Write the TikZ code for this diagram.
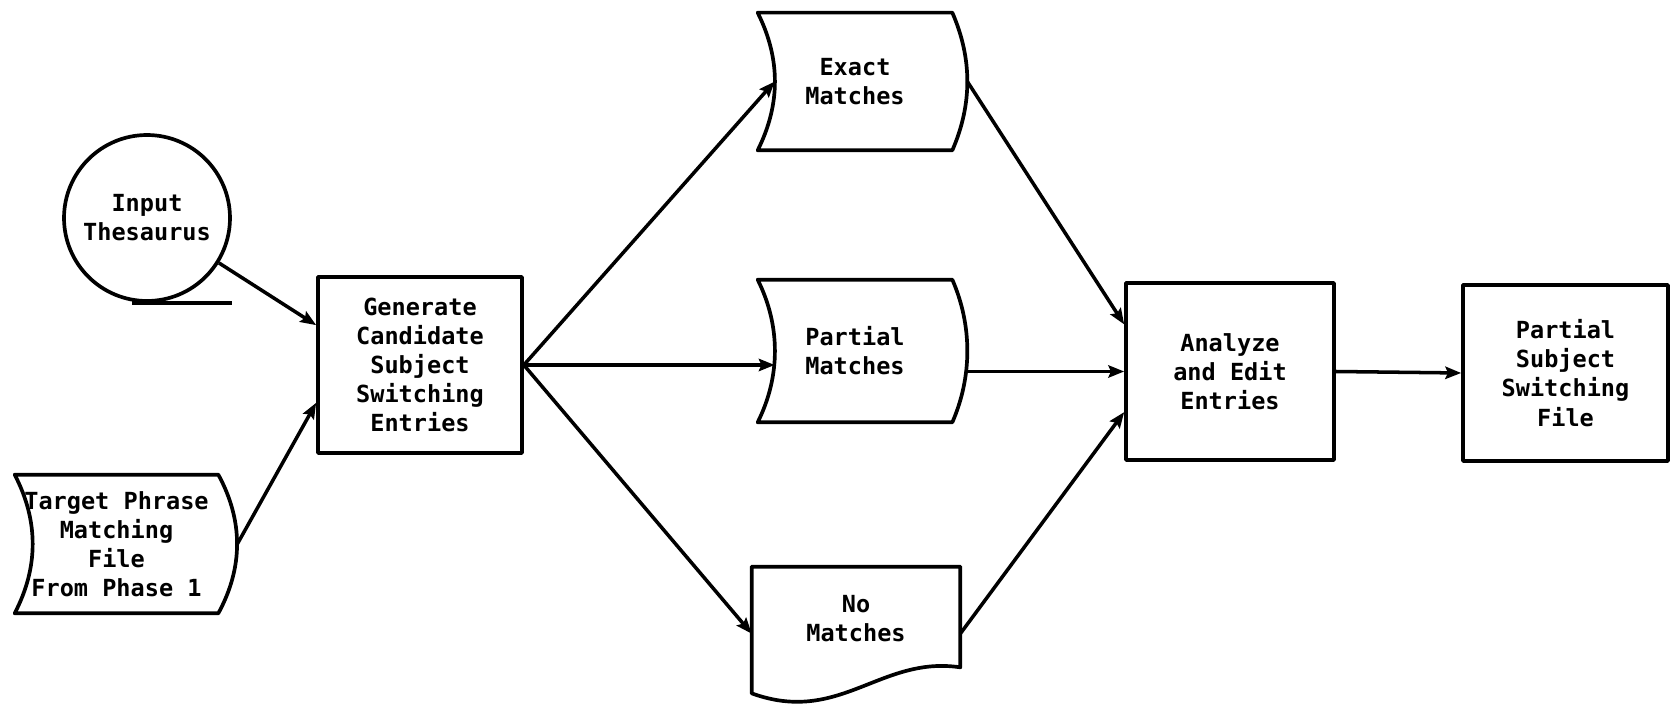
\documentclass[tikz,border=0pt]{standalone}
\usepackage{fontspec}
\newfontfamily\chartfont{DejaVu Sans Mono}
\usetikzlibrary{calc,arrows.meta}
\tikzset{
  box/.style={line width=2.1pt,line join=round},
  txt/.style={font={\chartfont\bfseries\fontsize{13.4pt}{16.6pt}\selectfont},align=center,inner sep=0pt},
  flow/.style={line width=2pt,-{Stealth[length=9pt,width=7pt,inset=1.5pt]}}
}
\begin{document}
\begin{tikzpicture}[x=0.02cm,y=-0.02cm]
      \useasboundingbox (0,0) rectangle (1671,705);
      \begin{scope}[shift={(0,0)}]
        \node[txt,circle,draw,box,minimum size=3.32cm] (th) at (147,218) {Input\\Thesaurus};
        \draw[box] ([xshift=-0.3cm]th.south) -- ++(100,0);
        \node[txt,minimum width=4.06cm,minimum height=2.76cm] (tp) at (116.5,544)
          {Target Phrase\\Matching\\File\\From Phase 1};
        \node[txt,draw,box,minimum width=4.08cm,minimum height=3.52cm] (gen) at (420,365)
          {Generate\\Candidate\\Subject\\Switching\\Entries};
        \node[txt,minimum width=3.88cm,minimum height=2.74cm] (ex) at (855,81.5) {Exact\\Matches};
        \node[txt,minimum width=3.88cm,minimum height=2.84cm] (pm) at (855,351) {Partial\\Matches};
        \node[txt,minimum width=4.16cm,minimum height=2.08cm] (nm) at (856,619) {No\\Matches};
        \node[txt,draw,box,minimum width=4.16cm,minimum height=3.54cm] (an) at (1230,371.5)
          {Analyze\\and Edit\\Entries};
        \node[txt,draw,box,minimum width=4.1cm,minimum height=3.52cm] (ps) at (1565.5,373)
          {Partial\\Subject\\Switching\\File};
        \foreach \n/\l/\r in {tp/24/25, ex/23/20, pm/23/20}{
          \draw[box] (\n.north west) -- (\n.north east)
            .. controls +(\r,46) and +(\r,-46) .. (\n.south east) -- (\n.south west)
            .. controls +(\l,-46) and +(\l,46) .. (\n.north west) -- cycle;
        }
        \draw[box] (nm.south west) -- (nm.north west) -- (nm.north east)
          -- ([yshift=0.08cm]nm.south east)
          .. controls +(-80,-12) and +(88,32) .. ([yshift=-0.44cm]nm.south west) -- cycle;
        \draw[flow] (th.-32) -- (gen.159);
        \draw[flow] ([xshift=0.38cm]tp.east) -- (gen.200);
        \draw[flow] (gen.east) -- ([xshift=0.34cm]ex.west);
        \draw[flow] (gen.east) -- ($(gen.east -| pm.west)+(17,0)$);
        \draw[flow] (gen.east) -- (nm.188);
        \draw[flow] ([xshift=0.3cm]ex.east) -- (an.156);
        \draw[flow] ($(an.west -| pm.east)+(14,0)$) -- (an.west);
        \draw[flow] (nm.-8) -- (an.201);
        \draw[flow] (an.east) -- (ps.west);
      \end{scope}
    \end{tikzpicture}
\end{document}
